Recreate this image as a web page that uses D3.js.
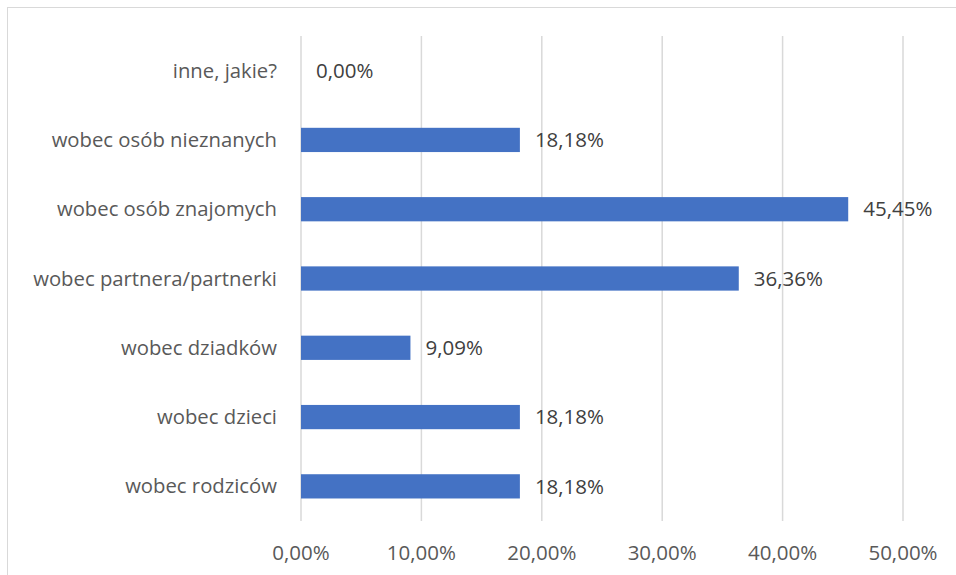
<!DOCTYPE html>
<html>
<head>
<meta charset="utf-8">
<script src="https://cdn.jsdelivr.net/npm/d3@7"></script>
<style>
  body { margin: 0; background: #fff; }
  text { font-family: "Open Sans", sans-serif; }
</style>
</head>
<body>
<script>
let categories = ["inne, jakie?", "wobec osób nieznanych", "wobec osób znajomych", "wobec partnera/partnerki", "wobec dziadków", "wobec dzieci", "wobec rodziców"];
let values = [0, 18.18, 45.45, 36.36, 9.09, 18.18, 18.18];
let ticks = [0, 10, 20, 30, 40, 50];

let W = 956, H = 575;
let margin = {left: 301, right: 53, top: 36, bottom: 54};

let svg = d3.select("body").append("svg").attr("width", W).attr("height", H);

// outer chart frame (cut off by the window at right/bottom)
svg.append("rect")
  .attr("x", 7.5).attr("y", 7.5)
  .attr("width", W + 20).attr("height", H + 20)
  .attr("fill", "none").attr("stroke", "#d9d9d9").attr("stroke-width", 1);

let x = d3.scaleLinear().domain([0, 50]).range([margin.left, W - margin.right]);
let y = d3.scaleBand().domain(categories).range([margin.top, H - margin.bottom]).paddingInner(0.65).paddingOuter(0.325);

let fmt = v => d3.format(".2f")(v).replace(".", ",") + "%";

// gridlines
svg.append("g").selectAll("line")
  .data(ticks)
  .enter().append("line")
  .attr("x1", d => x(d)).attr("x2", d => x(d))
  .attr("y1", margin.top).attr("y2", H - margin.bottom)
  .attr("stroke", "#d9d9d9").attr("stroke-width", 1.5);

// bars
svg.append("g").selectAll("rect")
  .data(values)
  .enter().append("rect")
  .attr("x", x(0))
  .attr("y", (d, i) => y(categories[i]))
  .attr("width", d => x(d) - x(0))
  .attr("height", y.bandwidth())
  .attr("fill", "#4472c4");

// data labels
svg.append("g").selectAll("text")
  .data(values)
  .enter().append("text")
  .attr("x", d => x(d) + 15)
  .attr("y", (d, i) => y(categories[i]) + y.bandwidth() / 2)
  .attr("dy", "0.35em")
  .attr("font-size", 20.5)
  .attr("fill", "#404040")
  .text(d => fmt(d));

// category labels
svg.append("g").selectAll("text")
  .data(categories)
  .enter().append("text")
  .attr("x", x(0) - 24)
  .attr("y", d => y(d) + y.bandwidth() / 2)
  .attr("dy", "0.35em")
  .attr("text-anchor", "end")
  .attr("font-size", 20.3)
  .attr("fill", "#595959")
  .text(d => d);

// x tick labels
svg.append("g").selectAll("text")
  .data(ticks)
  .enter().append("text")
  .attr("x", d => x(d))
  .attr("y", 553)
  .attr("dy", "0.35em")
  .attr("text-anchor", "middle")
  .attr("font-size", 20.5)
  .attr("fill", "#595959")
  .text(d => fmt(d));
</script>
</body>
</html>
